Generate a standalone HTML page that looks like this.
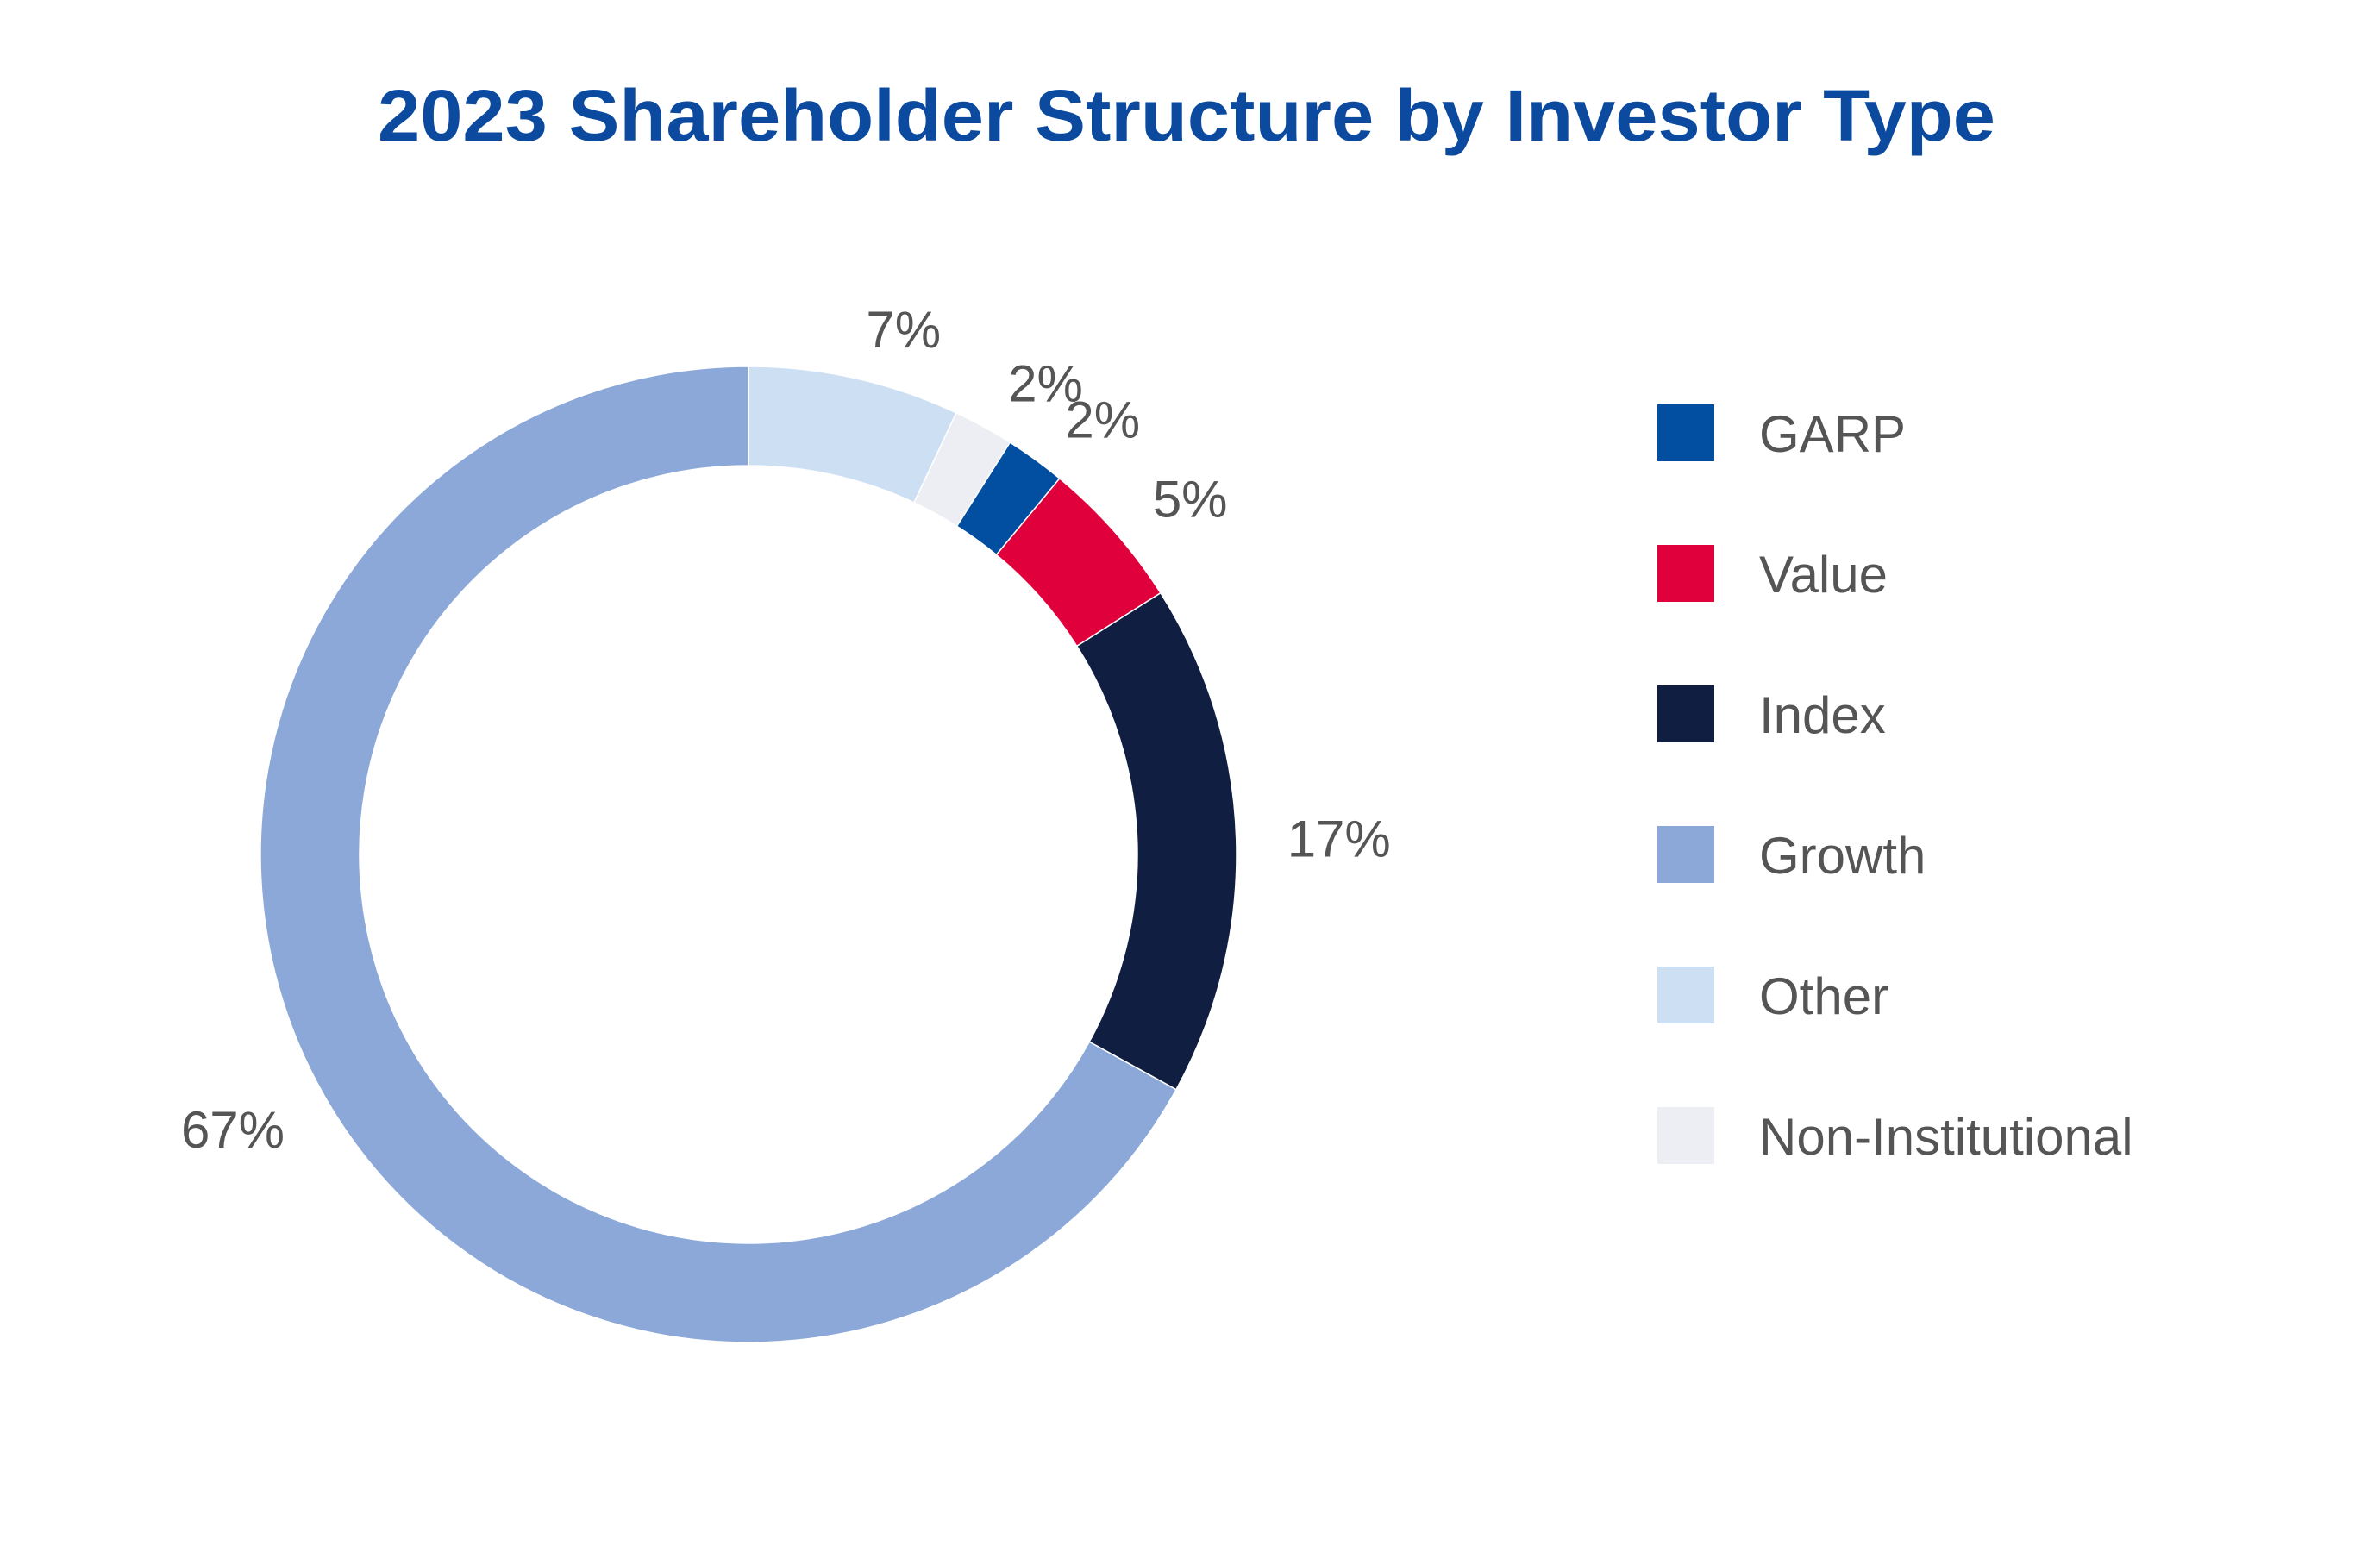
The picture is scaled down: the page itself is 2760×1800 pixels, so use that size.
<!DOCTYPE html>
<html><head><meta charset="utf-8"><style>
html,body{margin:0;padding:0;background:#fff;}
svg{display:block;}
</style></head><body>
<svg id="chart" width="2760" height="1800" viewBox="0 0 2760 1800" xmlns="http://www.w3.org/2000/svg">
<text x="1376" y="163" text-anchor="middle" font-family="Liberation Sans, sans-serif" font-weight="bold" font-size="84" fill="#0b4a9e" textLength="1876" lengthAdjust="spacingAndGlyphs">2023 Shareholder Structure by Investor Type</text>
<g id="slices"></g>
<g id="labels"></g>
<g id="legend"></g>
</svg>
<script>
const categories = ["Other","Non-Institutional","GARP","Value","Index","Growth"];
const values = [7, 2, 2, 5, 17, 67];
const valueLabels = ["7%","2%","2%","5%","17%","67%"];
const legendOrder = ["GARP","Value","Index","Growth","Other","Non-Institutional"];
const colors = {"Other":"#cddff3","Non-Institutional":"#eceef3","GARP":"#024ea0","Value":"#e0003c","Index":"#101e41","Growth":"#8ba8d8"};

const NS="http://www.w3.org/2000/svg";
const cx=868, cy=991, R=566, r=451, RL=625;
const total=values.reduce((a,b)=>a+b,0);
function ang(v){return v/total*2*Math.PI;}
function pt(a,rad){return [cx+rad*Math.sin(a), cy-rad*Math.cos(a)];}
const gS=document.getElementById('slices'), gL=document.getElementById('labels'), gG=document.getElementById('legend');
let cum=0;
values.forEach((v,i)=>{
  const a0=ang(cum), a1=ang(cum+v); cum+=v;
  const large=(a1-a0)>Math.PI?1:0;
  const p0=pt(a0,R),p1=pt(a1,R),q1=pt(a1,r),q0=pt(a0,r);
  const d=`M${p0[0]},${p0[1]} A${R},${R} 0 ${large} 1 ${p1[0]},${p1[1]} L${q1[0]},${q1[1]} A${r},${r} 0 ${large} 0 ${q0[0]},${q0[1]} Z`;
  const p=document.createElementNS(NS,'path');
  p.setAttribute('d',d);
  p.setAttribute('fill',colors[categories[i]]);
  p.setAttribute('stroke','#fff');
  p.setAttribute('stroke-width','1.5');
  
  
  gS.appendChild(p);
  const am=(a0+a1)/2, lp=pt(am,RL);
  const t=document.createElementNS(NS,'text');
  t.setAttribute('x',lp[0]);
  t.setAttribute('y',lp[1]+22);
  t.setAttribute('text-anchor',Math.sin(am)>=0?'start':'end');
  t.setAttribute('font-family','Liberation Sans, sans-serif');
  t.setAttribute('font-size','60');
  t.setAttribute('fill','#555');
  t.textContent=valueLabels[i];
  
  
  gL.appendChild(t);
});
legendOrder.forEach((c,i)=>{
  const y=469+i*163;
  const s=document.createElementNS(NS,'rect');
  s.setAttribute('x',1922);s.setAttribute('y',y);s.setAttribute('width',66);s.setAttribute('height',66);
  s.setAttribute('fill',colors[c]);
  
  
  gG.appendChild(s);
  const t=document.createElementNS(NS,'text');
  t.setAttribute('x',2040);t.setAttribute('y',y+55);
  t.setAttribute('font-family','Liberation Sans, sans-serif');
  t.setAttribute('font-size','60');
  t.setAttribute('fill','#555');
  t.textContent=c;
  
  
  gG.appendChild(t);
});
</script>
</body></html>
